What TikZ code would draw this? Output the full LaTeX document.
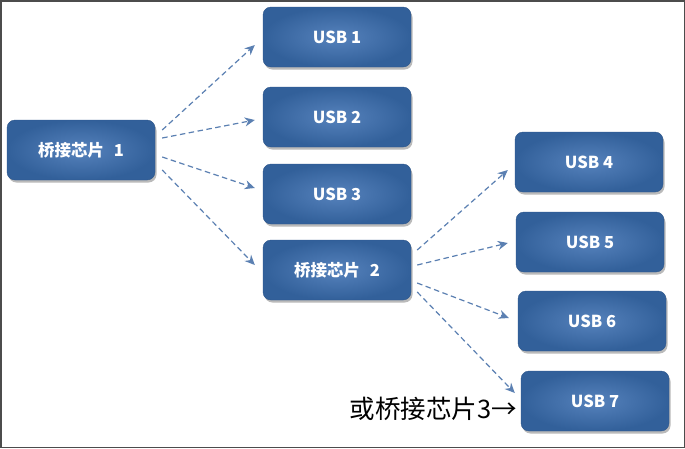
\documentclass[tikz,border=0pt]{standalone}
\usepackage{fontspec}
\setmainfont{Carlito}
\newfontfamily\cjk{Noto Sans CJK SC}
\usetikzlibrary{shadows,arrows.meta}
\definecolor{boxin}{HTML}{5682BC}
\definecolor{boxout}{HTML}{32609A}
\definecolor{arr}{HTML}{5B80B2}
\begin{document}
\begin{tikzpicture}[x=1pt,y=-1pt,
  chip/.style={rounded corners=8pt, minimum width=148pt, minimum height=60pt,
    inner color=boxin, outer color=boxout, draw=boxout!90!black, line width=0.4pt,
    text=white, font=\cjk\bfseries\fontsize{16.5}{20}\selectfont,
    drop shadow={shadow xshift=1.5pt, shadow yshift=-2.5pt, fill=black!45, opacity=0.6}},
  link/.style={draw=arr, line width=1.2pt, dash pattern=on 5.5pt off 3.5pt,
    -{Stealth[length=10pt,width=9pt]}}]
\useasboundingbox (0,0) rectangle (685,448);
\fill[white] (0,0) rectangle (685,448);
\draw[black!70, line width=1.5pt] (0.75,0.75) rectangle (684.25,447.25);

\node[chip] (b1) at (81,150) {桥接芯片\hspace{0.6em}1};
\node[chip] (u1) at (337,37) {USB 1};
\node[chip] (u2) at (337,117) {USB 2};
\node[chip] (u3) at (337,194) {USB 3};
\node[chip] (b2) at (337,270) {桥接芯片\hspace{0.6em}2};
\node[chip] (u4) at (589,162) {USB 4};
\node[chip] (u5) at (590,242) {USB 5};
\node[chip] (u6) at (592,321) {USB 6};
\node[chip] (u7) at (595,401) {USB 7};

\node[anchor=east, font=\cjk\fontsize{25.5}{30}\selectfont, inner sep=0pt] (note) at (517,409) {或桥接芯片3→};

\draw[link] ([xshift=7pt,yshift=20pt]b1.east) -- ([xshift=-8pt,yshift=-8pt]u1.west);
\draw[link] ([xshift=7pt,yshift=12pt]b1.east) -- ([xshift=-8pt,yshift=-3pt]u2.west);
\draw[link] ([xshift=7pt,yshift=-7pt]b1.east) -- ([xshift=-8pt,yshift=6pt]u3.west);
\draw[link] ([xshift=7pt,yshift=-20pt]b1.east) -- ([xshift=-8pt,yshift=5pt]b2.west);

\draw[link] ([xshift=6pt,yshift=20pt]b2.east) -- ([xshift=-7pt,yshift=-8pt]u4.west);
\draw[link] ([xshift=6pt,yshift=5pt]b2.east) -- ([xshift=-8pt,yshift=-1pt]u5.west);
\draw[link] ([xshift=6pt,yshift=-13pt]b2.east) -- ([xshift=-9pt,yshift=3pt]u6.west);
\draw[link] ([xshift=6pt,yshift=-22pt]b2.east) -- ([xshift=-6pt,yshift=8pt]u7.west);
\end{tikzpicture}
\end{document}
